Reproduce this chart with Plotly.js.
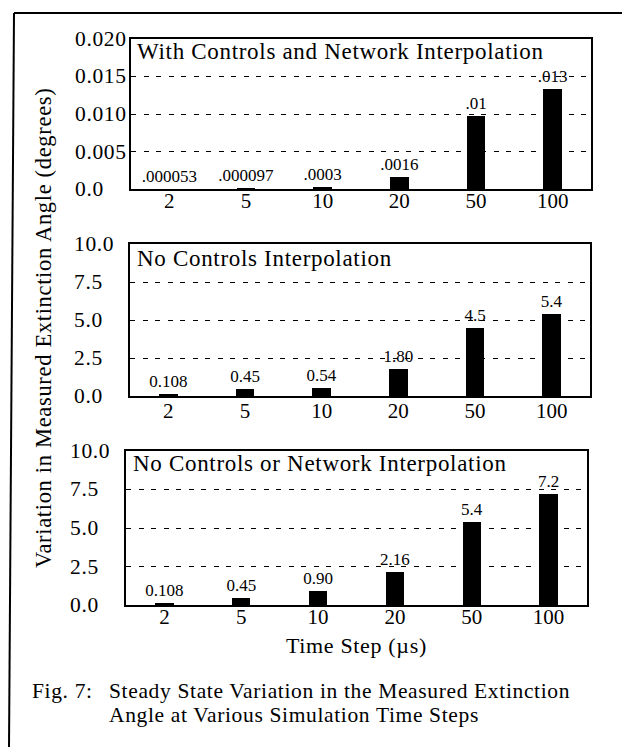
<!DOCTYPE html>
<html>
<head>
<meta charset="utf-8">
<script src="https://cdn.plot.ly/plotly-3.0.1.min.js"></script>
<style>
html, body { margin: 0; padding: 0; background: #fff; }
#chart { width: 622px; height: 747px; }
.annotation-text { letter-spacing: 0.03em; }
</style>
</head>
<body>
<div id="chart"></div>
<script>
// ---- data ----
const categories = ["2", "5", "10", "20", "50", "100"];

const withControlsValues = [0.000053, 0.000097, 0.0003, 0.0016, 0.0098, 0.0133];
const withControlsLabels = [".000053", ".000097", ".0003", ".0016", ".01", ".013"];

const noControlsValues = [0.108, 0.45, 0.54, 1.80, 4.5, 5.4];
const noControlsLabels = ["0.108", "0.45", "0.54", "1.80", "4.5", "5.4"];

const noNetworkValues = [0.108, 0.45, 0.90, 2.16, 5.4, 7.2];
const noNetworkLabels = ["0.108", "0.45", "0.90", "2.16", "5.4", "7.2"];

const topTickVals = [0, 0.005, 0.010, 0.015, 0.020];
const topTickText = ["0.0", "0.005", "0.010", "0.015", "0.020"];
const lowTickVals = [0, 2.5, 5.0, 7.5, 10.0];
const lowTickText = ["0.0", "2.5", "5.0", "7.5", "10.0"];

const panelTitles = [
  "With Controls and Network Interpolation",
  "No Controls Interpolation",
  "No Controls or Network Interpolation"
];
const yAxisTitle = "Variation in Measured Extinction Angle (degrees)";
const xAxisTitle = "Time Step (\u00B5s)";
const captionLabel = "Fig. 7:";
const captionLine1 = "Steady State Variation in the Measured Extinction";
const captionLine2 = "Angle at Various Simulation Time Steps";

// ---- layout helpers ----
const W = 622, H = 747;
const FONT = "Liberation Serif, Times New Roman, serif";
const px = v => v / W;
const py = v => 1 - v / H;

function bar(values, labels, xa, ya) {
  return {
    type: "bar",
    x: categories,
    y: values,
    xaxis: xa,
    yaxis: ya,
    width: 0.24,
    marker: { color: "#000", line: { width: 0 } },
    text: labels,
    textposition: "outside",
    constraintext: "none",
    cliponaxis: false,
    textfont: { family: FONT, size: 17, color: "#000" },
    hoverinfo: "skip",
    showlegend: false
  };
}

const data = [
  bar(withControlsValues, withControlsLabels, "x", "y"),
  bar(noControlsValues, noControlsLabels, "x2", "y2"),
  bar(noNetworkValues, noNetworkLabels, "x3", "y3")
];

function xAxis(l, r, anchor, standoff) {
  return {
    domain: [px(l), px(r)],
    anchor: anchor,
    type: "category",
    showline: true, mirror: true, linecolor: "#000", linewidth: 1.6,
    ticks: "", ticklen: 0, showgrid: false, zeroline: false,
    ticklabelstandoff: standoff,
    tickfont: { family: FONT, size: 21, color: "#000" },
    fixedrange: true
  };
}
function yAxis(top, bottom, anchor, range, vals) {
  return {
    domain: [py(bottom), py(top)],
    anchor: anchor,
    range: range,
    tickvals: vals,
    showticklabels: false,
    ticks: "",
    showgrid: true, gridcolor: "#000", gridwidth: 1, griddash: "5px,7.5px",
    showline: true, mirror: true, linecolor: "#000", linewidth: 1.6,
    zeroline: false,
    fixedrange: true
  };
}

const annotations = [];
function tickAnnots(vals, texts, yref, x) {
  vals.forEach((v, i) => {
    annotations.push({
      xref: "paper", yref: yref, x: px(x), y: v,
      text: texts[i], showarrow: false, xanchor: "left", yanchor: "middle",
      font: { family: FONT, size: 21.5, color: "#000" }
    });
  });
}
tickAnnots(topTickVals, topTickText, "y", 73);
tickAnnots(lowTickVals, lowTickText, "y2", 72);
tickAnnots(lowTickVals, lowTickText, "y3", 68);

function textAnnot(text, x, y, size, xanchor, extra) {
  annotations.push(Object.assign({
    xref: "paper", yref: "paper", x: px(x), y: py(y),
    text: text, showarrow: false, xanchor: xanchor, yanchor: "middle",
    font: { family: FONT, size: size, color: "#000" }
  }, extra || {}));
}
textAnnot(panelTitles[0], 135, 52, 23, "left");
textAnnot(panelTitles[1], 135, 258, 23, "left");
textAnnot(panelTitles[2], 131, 464, 23, "left");
textAnnot(yAxisTitle, 43, 328, 22.5, "center", { textangle: -90 });
textAnnot(xAxisTitle, 356, 645, 22, "center");
textAnnot(captionLabel, 31, 691, 21.5, "left", { borderpad: 0 });
textAnnot(captionLine1, 108, 691, 21.5, "left", { borderpad: 0 });
textAnnot(captionLine2, 108, 715, 21.5, "left", { borderpad: 0 });

const layout = {
  width: W, height: H,
  margin: { l: 0, r: 0, t: 0, b: 0 },
  paper_bgcolor: "#fff", plot_bgcolor: "#fff",
  showlegend: false,
  bargap: 0,
  xaxis: xAxis(131, 591, "y", -8),
  yaxis: yAxis(39, 189, "x", [0, 0.020], topTickVals),
  xaxis2: xAxis(130, 590, "y2", -5),
  yaxis2: yAxis(244, 396, "x2", [0, 10], lowTickVals),
  xaxis3: xAxis(126, 587, "y3", -8),
  yaxis3: yAxis(451, 605, "x3", [0, 10], lowTickVals),
  annotations: annotations,
  shapes: [
    { type: "line", xref: "paper", yref: "paper", x0: px(14), y0: py(13), x1: px(622), y1: py(13),
      line: { color: "#000", width: 2 } },
    { type: "line", xref: "paper", yref: "paper", x0: px(14), y0: py(13), x1: px(9), y1: py(747),
      line: { color: "#000", width: 2 } }
  ]
};

Plotly.newPlot("chart", data, layout, { staticPlot: true, displayModeBar: false });
</script>
</body>
</html>
